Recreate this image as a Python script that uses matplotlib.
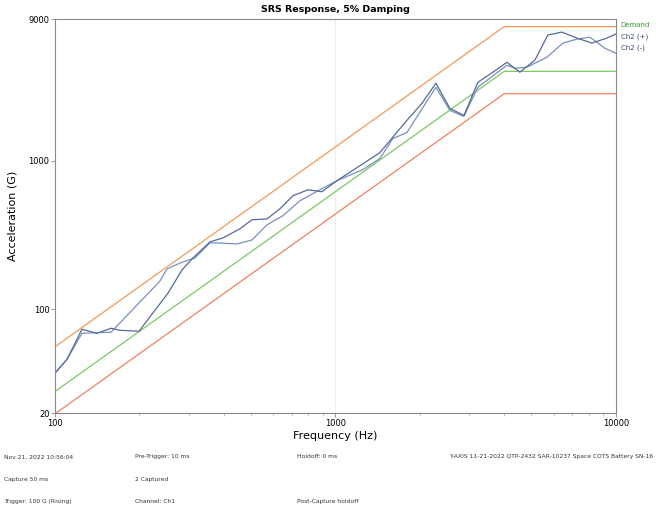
import matplotlib
matplotlib.use("Agg")
import matplotlib.pyplot as plt
from matplotlib.ticker import FixedLocator, NullFormatter

# Demand profile and tolerance bands (+6 dB / -3 dB)
demand_freq = [100, 4000, 10000]
demand_g = [28, 4000, 4000]
upper_g = [56, 8000, 8000]
lower_g = [19.8, 2828, 2828]

# Ch2 (+) response
pos_freq = [100, 110.4, 124.8, 141, 158.4, 170.5, 199.3, 252.9, 283.7, 310.5,
            356.9, 397.2, 456.5, 504, 570, 634, 705.6, 798, 895, 1012,
            1193, 1441, 1798, 2034, 2282, 2560, 2872, 3221, 3644, 4088,
            4548, 5143, 5722, 6420, 7261, 8213, 9288, 10000]
pos_g = [37.2, 46.1, 73.5, 69, 74.6, 72.3, 71.2, 128.5, 184, 221.8,
         284.4, 302.7, 348.5, 400.9, 406, 475, 581.6, 638, 619, 734,
         899, 1135, 1871, 2434, 3327, 2254, 2018, 3375, 3947, 4604,
         3947, 4754, 7020, 7350, 6700, 6200, 6700, 7130]

# Ch2 (-) response
neg_freq = [100, 110.4, 124.8, 158.4, 236.7, 250.8, 279, 315.5, 356.9, 378,
            445.5, 504, 570, 649.7, 747, 880.7, 1012, 1253, 1441, 1603,
            1798, 2282, 2560, 2872, 3221, 4088, 4365, 4817, 5675, 6471,
            7261, 8078, 9138, 10000]
neg_g = [37.2, 46.1, 69, 70.2, 154.9, 187, 205, 221.8, 280, 280,
         275.6, 293, 370.6, 426.6, 538, 638, 734, 873, 1036, 1413,
         1549, 3126, 2183, 1990, 3126, 4397, 4198, 4266, 4977, 6196,
         6590, 6792, 5725, 5297]

fig = plt.figure(figsize=(6.56, 5.07), dpi=100)
ax = fig.add_axes([0.0838, 0.185, 0.855, 0.7775])

ax.plot(demand_freq, upper_g, color="#f09a5a", lw=0.9)
ax.plot(demand_freq, demand_g, color="#7cc860", lw=0.9)
ax.plot(demand_freq, lower_g, color="#f0825a", lw=0.9)
ax.plot(neg_freq, neg_g, color="#7890bb", lw=0.9)
ax.plot(pos_freq, pos_g, color="#55699a", lw=0.9)

ax.set_xscale("log")
ax.set_yscale("log")
ax.set_xlim(100, 10000)
ax.set_ylim(20, 9000)

ax.xaxis.set_major_locator(FixedLocator([100, 1000, 10000]))
ax.set_xticklabels(["100", "1000", "10000"])
minors = [m * d for d in (100, 1000) for m in range(2, 10)]
ax.xaxis.set_minor_locator(FixedLocator(minors))
ax.xaxis.set_minor_formatter(NullFormatter())
ax.yaxis.set_major_locator(FixedLocator([20, 100, 1000, 9000]))
ax.set_yticklabels(["20", "100", "1000", "9000"])
ax.yaxis.set_minor_locator(FixedLocator([]))

ax.tick_params(axis="both", which="major", labelsize=6, length=3,
               color="#888888", width=0.6, pad=1)
ax.tick_params(axis="x", which="minor", length=2, color="#aaaaaa", width=0.5)
for s in ax.spines.values():
    s.set_color("#888888")
    s.set_linewidth(0.8)

ax.axvline(1000, color="#eeeeee", lw=0.8, zorder=0)

ax.set_title("SRS Response, 5% Damping", fontsize=6.8, fontweight="bold", pad=5)
ax.set_xlabel("Frequency (Hz)", fontsize=8, labelpad=2)
ax.set_ylabel("Acceleration (G)", fontsize=8, labelpad=8)

fig.text(0.946, 0.950, "Demand", fontsize=5, color="#3a9a3a", va="center")
fig.text(0.946, 0.928, "Ch2 (+)", fontsize=5, color="#3a4a70", va="center")
fig.text(0.946, 0.906, "Ch2 (-)", fontsize=5, color="#3a4a70", va="center")

info = [
    (0.006, 0.099, "Nov 21, 2022 10:56:04"),
    (0.206, 0.099, "Pre-Trigger: 10 ms"),
    (0.453, 0.099, "Holdoff: 0 ms"),
    (0.006, 0.055, "Capture 50 ms"),
    (0.206, 0.055, "2 Captured"),
    (0.006, 0.011, "Trigger: 100 G (Rising)"),
    (0.206, 0.011, "Channel: Ch1"),
    (0.453, 0.011, "Post-Capture holdoff"),
]
for x, y, t in info:
    fig.text(x, y, t, fontsize=4.3, color="#333333", va="center")
fig.text(0.996, 0.099, "Y-AXIS 11-21-2022 QTP-2432 SAR-10237 Space COTS Battery SN-16",
         fontsize=4.3, color="#333333", va="center", ha="right")

fig.savefig("out.png", dpi=100)
